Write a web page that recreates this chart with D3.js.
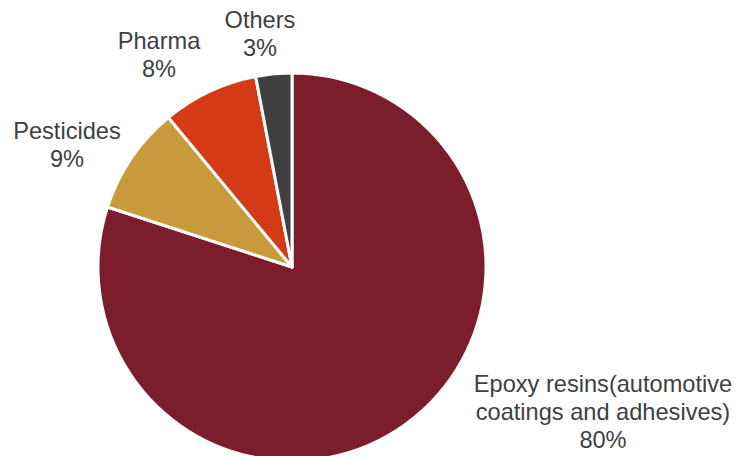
<!DOCTYPE html>
<html>
<head>
<meta charset="utf-8">
<script src="https://cdn.jsdelivr.net/npm/d3@7/dist/d3.min.js"></script>
<style>
  html, body { margin: 0; padding: 0; background: #fff; }
  svg { display: block; }
  text { font-family: "Liberation Sans", Arial, Helvetica, sans-serif; }
</style>
</head>
<body>
<svg id="chart" width="739" height="456"></svg>
<script>
// Application shares
const categories = ["Epoxy resins(automotive coatings and adhesives)", "Pesticides", "Pharma", "Others"];
const labelLines = [["Epoxy resins(automotive", "coatings and adhesives)"], ["Pesticides"], ["Pharma"], ["Others"]];
const shares = [80, 9, 8, 3];
const colors = ["#7B1D2A", "#C89A3B", "#D53A16", "#404040"];

// Label anchor points (centre of first line), in pixels
const labelAnchors = [[603, 392], [67, 139], [159, 49], [260, 28]];

const W = 739, H = 456;
const cx = 292, cy = 267, R = 194;

const svg = d3.select("#chart");
const g = svg.append("g").attr("transform", `translate(${cx},${cy})`);

const pie = d3.pie().sort(null).value(d => d).startAngle(0).endAngle(2 * Math.PI);
const arcs = pie(shares);
const arc = d3.arc().innerRadius(0).outerRadius(R);

g.selectAll("path")
  .data(arcs)
  .join("path")
  .attr("d", arc)
  .attr("fill", (d, i) => colors[i])
  .attr("stroke", "#fff")
  .attr("stroke-width", 3)
  .attr("stroke-linejoin", "round");

const lh = 28;
const fmt = d3.format(".0%");
labelLines.forEach((lines, i) => {
  const [x, y] = labelAnchors[i];
  const t = svg.append("text")
    .attr("x", x).attr("y", y)
    .attr("text-anchor", "middle")
    .attr("font-size", 23.6)
    .attr("fill", "#404040");
  const all = lines.concat([fmt(shares[i] / 100)]);
  all.forEach((s, j) => {
    t.append("tspan").attr("x", x).attr("y", y + j * lh).text(s);
  });
});
</script>
</body>
</html>
